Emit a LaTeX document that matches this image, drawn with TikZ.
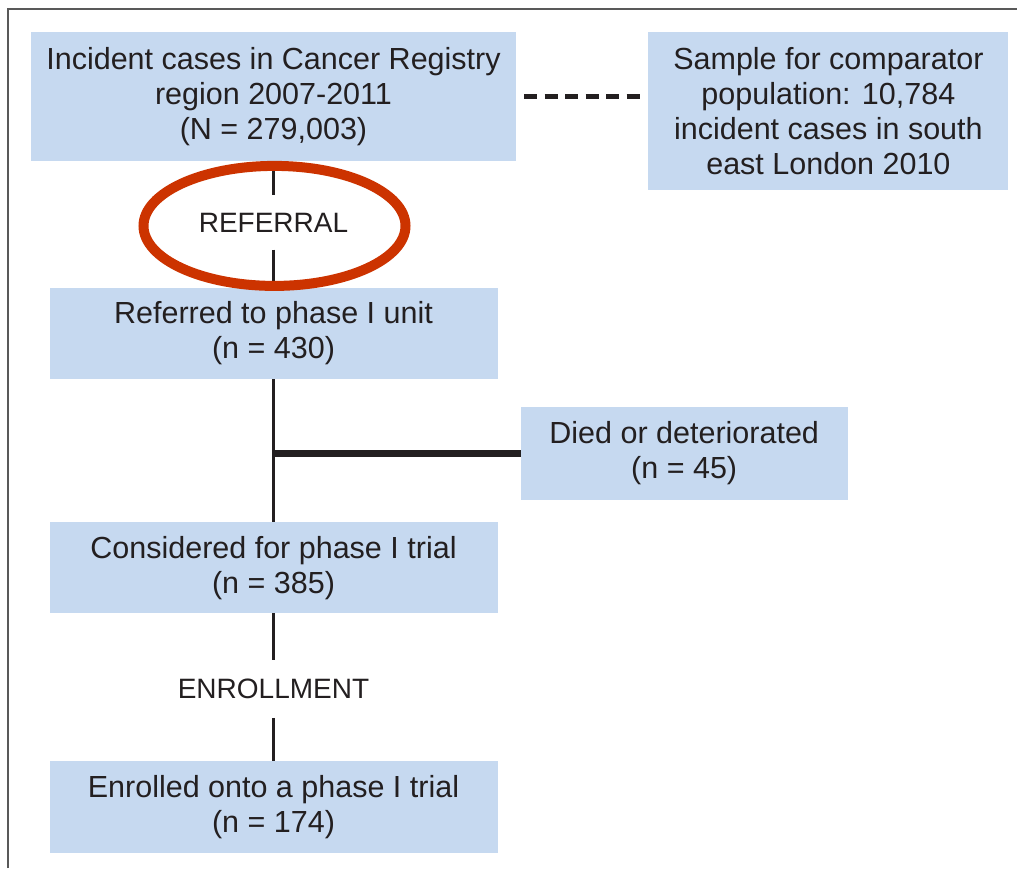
\documentclass[tikz,border=0pt]{standalone}
\usepackage{fontspec}
\setmainfont{Liberation Sans}
\usepackage{xcolor}
\usetikzlibrary{shapes.geometric, positioning}

\definecolor{boxblue}{RGB}{198,217,240}
\definecolor{ink}{RGB}{35,31,32}
\definecolor{ringred}{RGB}{204,51,0}

\begin{document}
\begin{tikzpicture}[
    x=1pt, y=-1pt,
    every node/.style={font=\fontsize{30.5}{35}\selectfont, align=center, text=ink, inner sep=0pt},
    box/.style={fill=boxblue, minimum width=448pt, minimum height=91pt},
    tag/.style={font=\fontsize{28}{33}\selectfont, minimum height=54pt},
    link/.style={draw=ink, line width=3.5pt},
    branch/.style={draw=ink, line width=7pt},
    dashlink/.style={draw=ink, line width=4.5pt, dash pattern=on 13pt off 7.5pt},
    ring/.style={draw=ringred, line width=10pt},
    frameline/.style={draw=black!65, line width=2pt}
  ]
  \useasboundingbox (0,0) rectangle (1017,868);
  \draw[frameline] (8,868) |- (1017,9);

  \node[box, minimum width=485pt, minimum height=129pt] at (273.5,96.5) (reg)
    {Incident cases in Cancer Registry\\region 2007-2011\\(N = 279,003)};
  \node[box, minimum width=360pt, minimum height=158pt, right=132pt of reg.north east, anchor=north west] (samp)
    {Sample for comparator\\population: 10,784\\incident cases in south\\east London 2010};

  \node[tag, below=34pt of reg] (referral) {REFERRAL};
  \node[box, below=38pt of referral] (referred) {Referred to phase I unit\\(n = 430)};
  \coordinate[below=74pt of referred] (split);
  \node[box, minimum width=327pt, minimum height=93pt, right=247pt of split] (died)
    {Died or deteriorated\\(n = 45)};
  \node[box, below=143pt of referred] (considered) {Considered for phase I trial\\(n = 385)};
  \node[tag, minimum height=57pt, below=47pt of considered] (enroll) {ENROLLMENT};
  \node[box, minimum height=92pt, below=43pt of enroll] (enrolled) {Enrolled onto a phase I trial\\(n = 174)};

  \draw[dashlink, shorten <=8pt, shorten >=7pt] (reg.east) -- (reg.east -| samp.west);
  \draw[link] (reg) -- (referral);
  \draw[link] (referral) -- (referred);
  \draw[link] (referred) -- (considered);
  \draw[branch] (split) -- (died);
  \draw[link] (considered) -- (enroll);
  \draw[link] (enroll) -- (enrolled);

  \draw[ring] ([xshift=1pt, yshift=-3.5pt]referral.center) ellipse [x radius=131, y radius=60];
\end{tikzpicture}
\end{document}
